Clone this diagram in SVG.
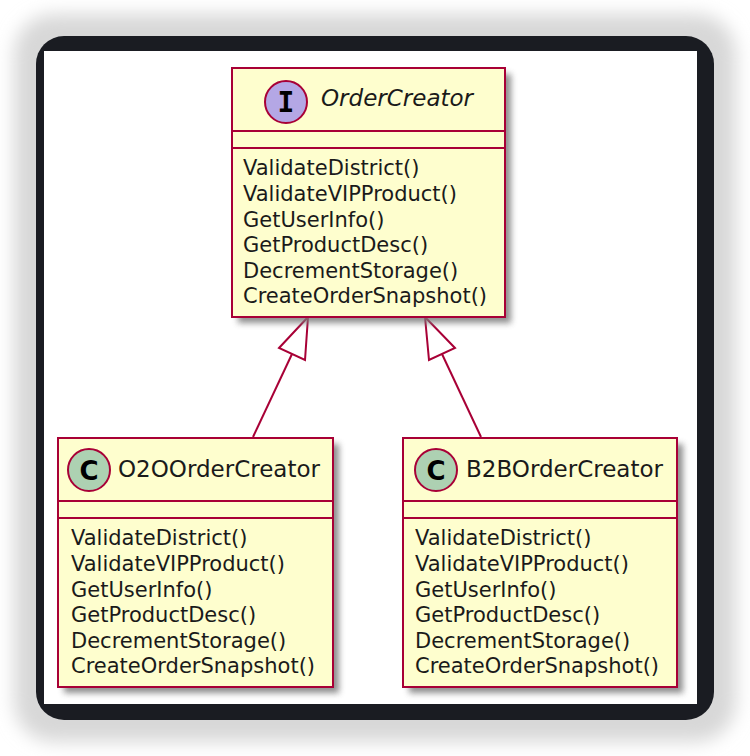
<svg xmlns="http://www.w3.org/2000/svg" width="750" height="756" viewBox="0 0 750 756">
<defs>
<filter id="glow" x="-10%" y="-10%" width="120%" height="120%"><feGaussianBlur stdDeviation="9"/></filter>
<filter id="shadow" x="-10%" y="-10%" width="130%" height="130%"><feGaussianBlur stdDeviation="3"/></filter>
<style>
.box{fill:#FEFECE;stroke:#A80036;stroke-width:2}
.sh{fill:#7a7a7a;opacity:0.85;filter:url(#shadow)}
.sep{stroke:#A80036;stroke-width:2}
.m{font-family:"DejaVu Sans",sans-serif;font-size:21px;fill:#1a1a1a}
.t{font-family:"DejaVu Sans",sans-serif;font-size:23px;fill:#1a1a1a}
.it{font-style:italic}
.cc{fill:#ADD1B2;stroke:#A80036;stroke-width:2}
.ic{fill:#B4A7E5;stroke:#A80036;stroke-width:2}
.g{font-family:"DejaVu Sans",sans-serif;font-weight:bold;font-size:26px;text-anchor:middle}
.gi{font-family:"DejaVu Sans Mono",monospace;font-weight:bold;font-size:28px;text-anchor:middle}
.edge{stroke:#A80036;stroke-width:2;fill:none}
.head{fill:#fff;stroke:#A80036;stroke-width:2}
</style>
</defs>
<rect x="14" y="14" width="722" height="728" rx="40" fill="#d8d8d8" filter="url(#glow)"/>
<rect x="36" y="36" width="678" height="684" rx="28" fill="#1a1c22"/>
<rect x="44" y="51" width="653" height="653" fill="#fff"/>

<g id="connectors">
<line class="edge" x1="292" y1="354" x2="253" y2="437"/>
<polygon class="head" points="308,317 279,348 305,360"/>
<line class="edge" x1="442" y1="354" x2="481" y2="437"/>
<polygon class="head" points="425,317 429,360 455,348"/>
</g>

<g id="OrderCreator">
<rect class="sh" x="238" y="74" width="273" height="249"/>
<rect class="box" x="232" y="68" width="273" height="249"/>
<line class="sep" x1="232" y1="131" x2="505" y2="131"/>
<line class="sep" x1="232" y1="148" x2="505" y2="148"/>
<circle class="ic" cx="286" cy="102" r="21"/>
<text class="gi" x="286" y="112">I</text>
<text class="t it" x="321" y="106">OrderCreator</text>
<text class="m" x="243" y="175">ValidateDistrict()</text>
<text class="m" x="243" y="201">ValidateVIPProduct()</text>
<text class="m" x="243" y="227">GetUserInfo()</text>
<text class="m" x="243" y="252">GetProductDesc()</text>
<text class="m" x="243" y="278">DecrementStorage()</text>
<text class="m" x="243" y="303">CreateOrderSnapshot()</text>
</g>

<g id="O2OOrderCreator">
<rect class="sh" x="64" y="444" width="275" height="249"/>
<rect class="box" x="58" y="438" width="275" height="249"/>
<line class="sep" x1="58" y1="501" x2="333" y2="501"/>
<line class="sep" x1="58" y1="518" x2="333" y2="518"/>
<circle class="cc" cx="89" cy="470" r="21"/>
<text class="g" x="89" y="479.5">C</text>
<text class="t" x="118" y="477">O2OOrderCreator</text>
<text class="m" x="71" y="545">ValidateDistrict()</text>
<text class="m" x="71" y="571">ValidateVIPProduct()</text>
<text class="m" x="71" y="597">GetUserInfo()</text>
<text class="m" x="71" y="622">GetProductDesc()</text>
<text class="m" x="71" y="648">DecrementStorage()</text>
<text class="m" x="71" y="673">CreateOrderSnapshot()</text>
</g>

<g id="B2BOrderCreator">
<rect class="sh" x="409" y="444" width="274" height="249"/>
<rect class="box" x="403" y="438" width="274" height="249"/>
<line class="sep" x1="403" y1="501" x2="677" y2="501"/>
<line class="sep" x1="403" y1="518" x2="677" y2="518"/>
<circle class="cc" cx="436" cy="470" r="21"/>
<text class="g" x="436" y="479.5">C</text>
<text class="t" x="466" y="477">B2BOrderCreator</text>
<text class="m" x="415" y="545">ValidateDistrict()</text>
<text class="m" x="415" y="571">ValidateVIPProduct()</text>
<text class="m" x="415" y="597">GetUserInfo()</text>
<text class="m" x="415" y="622">GetProductDesc()</text>
<text class="m" x="415" y="648">DecrementStorage()</text>
<text class="m" x="415" y="673">CreateOrderSnapshot()</text>
</g>
</svg>
